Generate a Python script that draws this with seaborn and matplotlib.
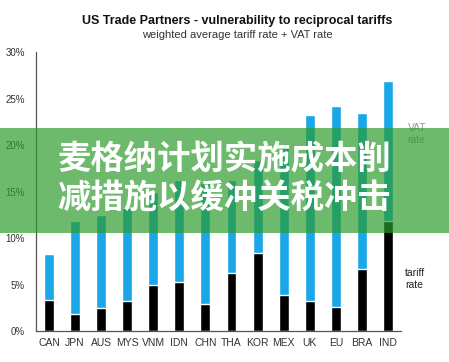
import numpy as np
import pandas as pd
import matplotlib
matplotlib.use("Agg")
import matplotlib.pyplot as plt
import seaborn as sns
from matplotlib.patches import Rectangle

# values (percent)
countries = ['CAN', 'JPN', 'AUS', 'MYS', 'VNM', 'IDN', 'CHN',
             'THA', 'KOR', 'MEX', 'UK', 'EU', 'BRA', 'IND']
tariff_rate = [3.3, 1.8, 2.5, 3.2, 5.0, 5.3, 2.9,
               6.2, 8.4, 3.9, 3.2, 2.6, 6.7, 11.8]
vat_rate = [5.0, 10.0, 10.0, 10.0, 10.0, 11.0, 13.0,
            10.0, 10.0, 16.0, 20.0, 21.6, 16.8, 15.1]
y_ticks = [0, 5, 10, 15, 20, 25, 30]

banner_lines = ['麦格纳计划实施成本削', '减措施以缓冲关税冲击']

sns.set_theme(style="white")
plt.rcParams['font.family'] = ['Liberation Sans', 'DejaVu Sans']

df = pd.DataFrame({'country': countries,
                   'tariff': tariff_rate,
                   'total': np.array(tariff_rate) + np.array(vat_rate)})

fig = plt.figure(figsize=(4.49, 3.62), dpi=100)
ax = fig.add_axes([0.080, 0.0856, 0.813, 0.770])

sns.barplot(data=df, x='country', y='total', color='#1aa7e8',
            width=0.38, saturation=1, ax=ax)
sns.barplot(data=df, x='country', y='tariff', color='black',
            width=0.38, saturation=1, ax=ax)

ax.set_xlim(-0.5, len(countries) - 0.5)
ax.set_ylim(0, 30)
ax.set_yticks(y_ticks)
ax.set_yticklabels([f'{t}%' for t in y_ticks])
ax.set_xlabel('')
ax.set_ylabel('')
ax.tick_params(axis='x', length=0, labelsize=7.5, colors='#333333', pad=5)
ax.tick_params(axis='y', length=0, labelsize=7, colors='#333333', pad=8)
for s in ['top', 'right']:
    ax.spines[s].set_visible(False)
for s in ['left', 'bottom']:
    ax.spines[s].set_color('#555555')
    ax.spines[s].set_linewidth(0.9)

# titles
fig.text(0.528, 0.942, 'US Trade Partners - vulnerability to reciprocal tariffs',
         ha='center', va='center', fontsize=9, fontweight='bold', color='#111111')
fig.text(0.528, 0.903, 'weighted average tariff rate + VAT rate',
         ha='center', va='center', fontsize=8, color='#333333')

# side labels
fig.text(0.908, 0.630, 'VAT\nrate', ha='left', va='center', fontsize=7.5,
         color='#7f9bb0', linespacing=1.2)
fig.text(0.902, 0.229, 'tariff\nrate', ha='left', va='center', fontsize=7.5,
         color='#222222', linespacing=1.2)

# green overlay banner
fig.patches.append(Rectangle((0, 1 - 233 / 362), 1, 105 / 362,
                             transform=fig.transFigure,
                             facecolor=(43 / 255, 156 / 255, 43 / 255),
                             alpha=0.69, edgecolor='none', zorder=5))
fig.text(0.5, 1 - 160 / 362, banner_lines[0], ha='center', va='center',
         fontsize=24, fontweight='heavy', color='white',
         family=['Noto Sans CJK SC', 'DejaVu Sans'], zorder=6)
fig.text(0.5, 1 - 198 / 362, banner_lines[1], ha='center', va='center',
         fontsize=24, fontweight='heavy', color='white',
         family=['Noto Sans CJK SC', 'DejaVu Sans'], zorder=6)

fig.savefig('out.png', dpi=100)
